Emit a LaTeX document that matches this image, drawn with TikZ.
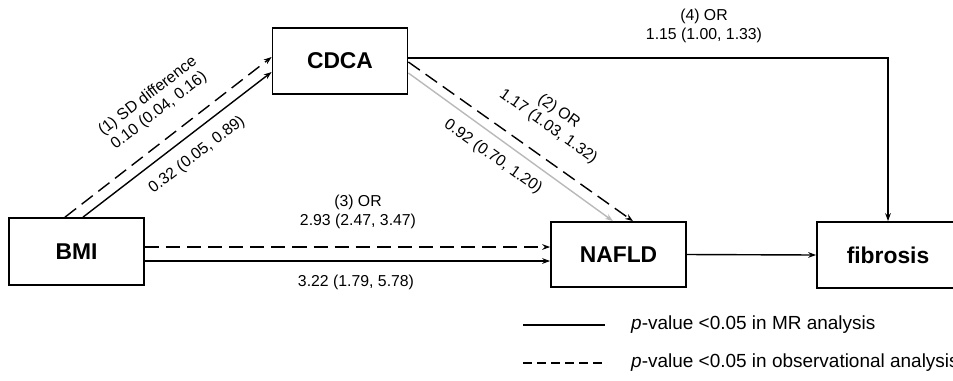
\documentclass[tikz,border=0pt]{standalone}
\usepackage{fontspec}
\setmainfont{Liberation Sans}
\usetikzlibrary{arrows.meta}

\definecolor{lightgrey}{RGB}{185,185,185}

\begin{document}
\begin{tikzpicture}[
    x = 0.02cm, y = -0.02cm,
    box/.style = {draw, line width=1pt, inner sep=0pt, font=\fontsize{13}{15}\selectfont\bfseries},
    est/.style = {font=\fontsize{9}{10.5}\selectfont, align=center, inner sep=1pt},
    link/.style = {line width=0.8pt, -{Stealth[length=4.5pt,width=3.2pt]}},
    mr/.style = {link},
    obs/.style = {link, dash pattern=on 8pt off 4pt},
    nonsig/.style = {link, draw=lightgrey}
]
    \useasboundingbox (0,0) rectangle (953,380);

    \node[box, minimum width=2.7cm, minimum height=1.32cm] (cdca) at (340,61) {CDCA};
    \node[box, minimum width=2.7cm, minimum height=1.34cm] (bmi) at (76.5,251.5) {BMI};
    \node[box, minimum width=2.7cm, minimum height=1.3cm] (nafld) at (618.5,254.5) {NAFLD};
    \node[box, minimum width=2.84cm, minimum height=1.32cm] (fib) at (888,255) {fibrosis};

    % BMI -> CDCA
    \draw[obs] ([shift={(-11.5,0)}]bmi.north) -- ([shift={(0,-4)}]cdca.west);
    \draw[mr] ([shift={(6.5,0)}]bmi.north) -- ([shift={(0,11)}]cdca.west);
    \node[est, rotate=37.5] (l1) at (153.5,103.5) {(1) SD difference\\0.10 (0.04, 0.16)};
    \node[est, rotate=37.5] (l1mr) at (197,155) {0.32 (0.05, 0.89)};

    % CDCA -> NAFLD
    \draw[obs] ([shift={(0,1)}]cdca.east) -- ([shift={(14.5,0)}]nafld.north);
    \draw[nonsig] ([shift={(0,12)}]cdca.east) -- ([shift={(-5.5,0)}]nafld.north);
    \node[est, rotate=-35.5] (l2) at (553.5,119) {(2) OR\\1.17 (1.03, 1.32)};
    \node[est, rotate=-35.5] (l2mr) at (493,157) {0.92 (0.70, 1.20)};

    % BMI -> NAFLD
    \draw[obs] ([shift={(0,-4.5)}]bmi.east) coordinate (d3) -- (d3 -| nafld.west);
    \draw[mr] ([shift={(0,9.5)}]bmi.east) coordinate (s3) -- (s3 -| nafld.west);
    \node[est] (l3) at (358,212) {(3) OR\\2.93 (2.47, 3.47)};
    \node[est] (l3mr) at (356,282) {3.22 (1.79, 5.78)};

    % NAFLD -> fibrosis, CDCA -> fibrosis
    \draw[mr] (nafld.east) -- (fib.west);
    \draw[mr] ([shift={(0,-3)}]cdca.east) -| (fib.north);
    \node[est] (l4) at (704,26) {(4) OR\\1.15 (1.00, 1.33)};

    % legend
    \coordinate (k1) at (523,325);
    \coordinate (k2) at (523,363);
    \draw[line width=0.8pt] (k1) -- ++(82,0) coordinate (k1e);
    \draw[line width=0.8pt, dash pattern=on 5pt off 3pt] (k2) -- ++(82,0) coordinate (k2e);
    \node[anchor=west, font=\fontsize{10.8}{13}\selectfont] (t1) at ([shift={(20,0)}]k1e) {\textit{p}-value <0.05 in MR analysis};
    \node[anchor=west, font=\fontsize{10.8}{13}\selectfont] (t2) at ([shift={(20,0)}]k2e) {\textit{p}-value <0.05 in observational analysis};
\end{tikzpicture}
\end{document}
